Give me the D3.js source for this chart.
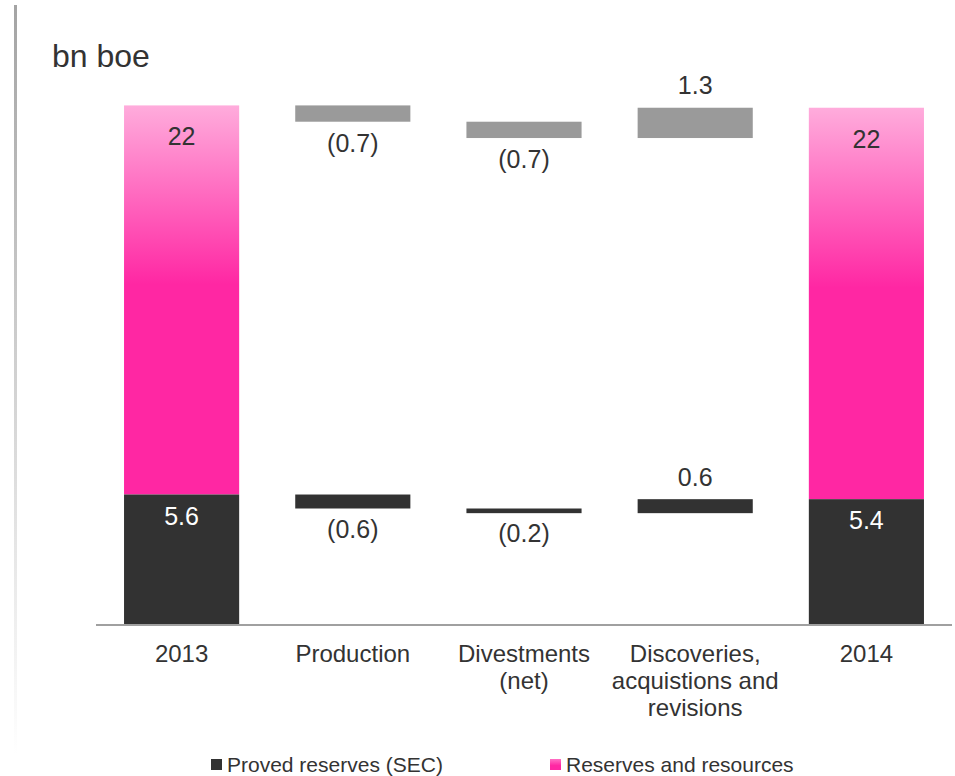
<!DOCTYPE html>
<html>
<head>
<meta charset="utf-8">
<script src="https://cdn.jsdelivr.net/npm/d3@7"></script>
<style>
  html, body { margin: 0; padding: 0; background: #fff; }
  svg { display: block; font-family: "Liberation Sans", Arial, Helvetica, sans-serif; }
</style>
</head>
<body>
<svg id="chart" width="955" height="776"></svg>
<script>
// ---- data ----
const categories = ["2013", "Production", "Divestments\n(net)", "Discoveries,\nacquistions and\nrevisions", "2014"];
const barKinds = ["total", "delta", "delta", "delta", "total"];
const provedValues = [5.6, -0.6, -0.2, 0.6, 5.4];
const reservesTotals = [22.3, -0.7, -0.7, 1.3, 22.2];
const provedLabels = ["5.6", "(0.6)", "(0.2)", "0.6", "5.4"];
const reservesLabels = ["22", "(0.7)", "(0.7)", "1.3", "22"];
const legendLabels = ["Proved reserves (SEC)", "Reserves and resources"];
const unitLabel = "bn boe";

// ---- layout ----
const svg = d3.select("#chart");
const plotLeft = 96, plotRight = 952, baseY = 625;

const x = d3.scaleBand().domain(categories).range([plotLeft, plotRight]).paddingInner(0.3275).paddingOuter(0.16375);
const y = d3.scaleLinear().domain([0, 23]).range([baseY, baseY - 23 * 23.3]);

const defs = svg.append("defs");
const pg = defs.append("linearGradient").attr("id", "pinkGrad").attr("x1", 0).attr("y1", 0).attr("x2", 0).attr("y2", 1);
pg.append("stop").attr("offset", "0%").attr("stop-color", "#ffacdc");
pg.append("stop").attr("offset", "46%").attr("stop-color", "#ff27a3");
pg.append("stop").attr("offset", "100%").attr("stop-color", "#ff27a3");

const pg2 = defs.append("linearGradient").attr("id", "pinkLegend").attr("x1", 0).attr("y1", 0).attr("x2", 0).attr("y2", 1);
pg2.append("stop").attr("offset", "0%").attr("stop-color", "#ff70c4");
pg2.append("stop").attr("offset", "60%").attr("stop-color", "#ff27a3");

const lg = defs.append("linearGradient").attr("id", "leftLine").attr("gradientUnits", "userSpaceOnUse")
  .attr("x1", 0).attr("y1", 5).attr("x2", 0).attr("y2", 755);
lg.append("stop").attr("offset", "0%").attr("stop-color", "#a4a4a4");
lg.append("stop").attr("offset", "100%").attr("stop-color", "#ffffff");

// left decorative line
svg.append("rect").attr("x", 14).attr("y", 5).attr("width", 3).attr("height", 750).attr("fill", "url(#leftLine)");

// unit label
svg.append("text").attr("x", 52).attr("y", 67).attr("font-size", 32).attr("fill", "#333").text(unitLabel);

// compute waterfall geometry
function waterfall(vals, kinds) {
  let cum = 0;
  return vals.map((v, i) => {
    if (kinds[i] === "total") { cum = v; return { lo: 0, hi: v, v, kind: "total" }; }
    const start = cum; cum += v;
    return { lo: Math.min(start, cum), hi: Math.max(start, cum), v, kind: "delta" };
  });
}
const provedBars = waterfall(provedValues, barKinds);
const totalBars = waterfall(reservesTotals, barKinds);

const g = svg.append("g");

categories.forEach((c, i) => {
  const tb = totalBars[i], pb = provedBars[i];
  const bx = x(c), bw = x.bandwidth(), cx = bx + bw / 2;
  if (tb.kind === "total") {
    const top = y(tb.hi), bot = y(pb.hi);
    g.append("rect").attr("x", bx).attr("y", top).attr("width", bw).attr("height", bot - top).attr("fill", "url(#pinkGrad)");
    g.append("rect").attr("x", bx).attr("y", y(pb.hi)).attr("width", bw).attr("height", baseY - y(pb.hi)).attr("fill", "#323232");
    g.append("text").attr("x", cx).attr("y", top + 40).attr("text-anchor", "middle").attr("font-size", 25).attr("fill", "#333").text(reservesLabels[i]);
    g.append("text").attr("x", cx).attr("y", y(pb.hi) + 30).attr("text-anchor", "middle").attr("font-size", 25).attr("fill", "#fff").text(provedLabels[i]);
  } else {
    const gt = y(tb.hi), gb = y(tb.lo);
    g.append("rect").attr("x", bx).attr("y", gt).attr("width", bw).attr("height", gb - gt).attr("fill", "#9a9a9a");
    const kt = y(pb.hi), kb = y(pb.lo);
    g.append("rect").attr("x", bx).attr("y", kt).attr("width", bw).attr("height", kb - kt).attr("fill", "#323232");
    g.append("text").attr("x", cx).attr("y", tb.v < 0 ? gb + 30 : gt - 14).attr("text-anchor", "middle").attr("font-size", 25).attr("fill", "#333").text(reservesLabels[i]);
    g.append("text").attr("x", cx).attr("y", pb.v < 0 ? kb + 29 : kt - 13).attr("text-anchor", "middle").attr("font-size", 25).attr("fill", "#333").text(provedLabels[i]);
  }
});

// x axis
const xAxis = svg.append("g").attr("transform", `translate(0,${baseY})`).call(d3.axisBottom(x).tickSize(0).tickFormat(""));
xAxis.select(".domain").attr("stroke", "#a0a0a0").attr("stroke-width", 2).attr("d", `M${plotLeft},0H${plotRight}`);
xAxis.selectAll(".tick").each(function(c) {
  const t = d3.select(this).append("text").attr("fill", "#333").attr("font-size", 24).attr("text-anchor", "middle").attr("y", 37);
  c.split("\n").forEach((line, k) => {
    t.append("tspan").attr("x", 0).attr("dy", k === 0 ? 0 : 27).text(line);
  });
});

// legend
const legendColors = ["#323232", "url(#pinkLegend)"];
const legendX = [211, 550];
legendLabels.forEach((lab, i) => {
  const lgG = svg.append("g").attr("transform", `translate(${legendX[i]},0)`);
  lgG.append("rect").attr("x", 0).attr("y", 759).attr("width", 11).attr("height", 11).attr("fill", legendColors[i]);
  lgG.append("text").attr("x", 16).attr("y", 772).attr("font-size", 21).attr("fill", "#333").text(lab);
});
</script>
</body>
</html>
